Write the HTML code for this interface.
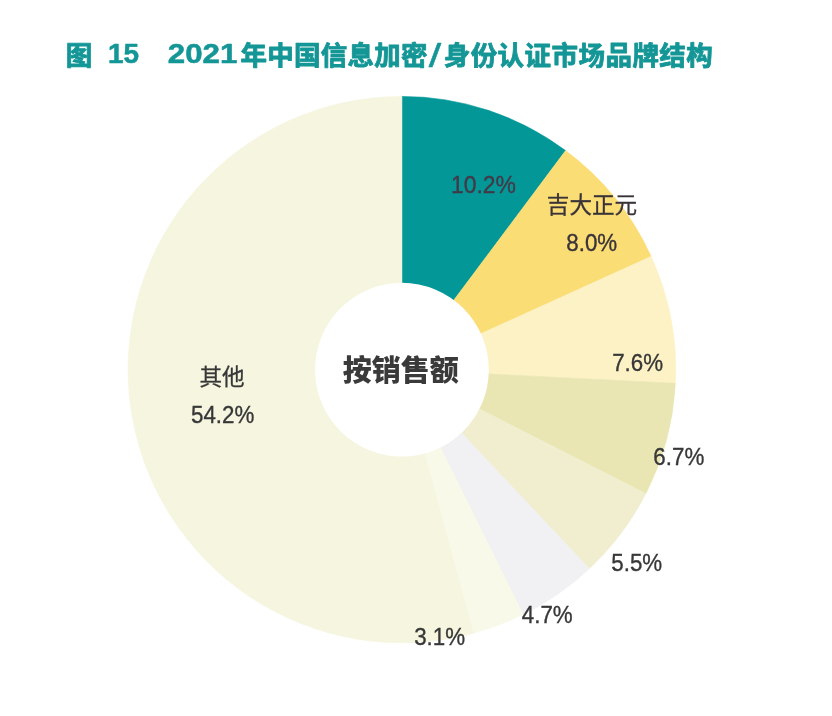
<!DOCTYPE html>
<html lang="zh-CN">
<head>
<meta charset="utf-8">
<title>图 15 2021 年中国信息加密/身份认证市场品牌结构</title>
<style>
html,body{margin:0;padding:0;background:#fff;}
body{width:832px;height:716px;position:relative;overflow:hidden;font-family:"Liberation Sans","Noto Sans CJK SC",sans-serif;}
svg{position:absolute;left:0;top:0;display:block;}
svg text{font-family:"Liberation Sans","Noto Sans CJK SC",sans-serif;fill:#373737;}
svg text.n{font-size:24.3px;text-anchor:middle;stroke:#373737;stroke-width:0.35px;}
svg text.k{font-size:22.6px;text-anchor:middle;stroke:#373737;stroke-width:0.3px;}
svg text.c{font-size:29px;font-weight:900;fill:#3a3a3a;text-anchor:middle;font-family:"Noto Sans CJK SC","Liberation Sans",sans-serif;}
svg .t text{fill:#149696;font-weight:bold;stroke:#149696;stroke-width:0.5px;stroke-linejoin:round;}
svg .t text.tk{stroke-width:0.85px;}
svg text.tk{font-size:26.5px;font-family:"Noto Sans CJK SC","Liberation Sans",sans-serif;}
svg text.tn{font-size:26.8px;}
</style>
</head>
<body>
<svg width="832" height="716" viewBox="0 0 832 716">
<g class="t">
<text class="tk" x="65.7" y="64.6">图</text>
<text class="tn" x="108.1" y="63.4" textLength="31" lengthAdjust="spacingAndGlyphs">15</text>
<text class="tn" x="167.8" y="63.4" textLength="69.6" lengthAdjust="spacingAndGlyphs">2021</text>
<text class="tk" x="240.6" y="64.7" style="letter-spacing:0.22px">年中国信息加密</text>
<text class="tn" x="428.8" y="66.6" textLength="12.4" lengthAdjust="spacingAndGlyphs" style="font-size:33.5px;font-weight:normal">/</text>
<text class="tk" x="443.7" y="64.7" style="letter-spacing:0.46px">身份认证市场品牌结构</text>
</g>
<path d="M401.9 369.6L401.90 96.40A273.8 273.2 0 0 1 565.61 150.61Z" fill="#039797" stroke="#039797" stroke-width="0.6"/>
<path d="M401.9 369.6L565.61 150.61A273.8 273.2 0 0 1 651.09 256.39Z" fill="#fbdd76" stroke="#fbdd76" stroke-width="0.6"/>
<path d="M401.9 369.6L651.09 256.39A273.8 273.2 0 0 1 675.35 383.33Z" fill="#fcf2c5" stroke="#fcf2c5" stroke-width="0.6"/>
<path d="M401.9 369.6L675.35 383.33A273.8 273.2 0 0 1 645.86 493.63Z" fill="#e9e6b4" stroke="#e9e6b4" stroke-width="0.6"/>
<path d="M401.9 369.6L645.86 493.63A273.8 273.2 0 0 1 589.33 568.75Z" fill="#f0eecf" stroke="#f0eecf" stroke-width="0.6"/>
<path d="M401.9 369.6L589.33 568.75A273.8 273.2 0 0 1 523.13 614.56Z" fill="#f1f0f2" stroke="#f1f0f2" stroke-width="0.6"/>
<path d="M401.9 369.6L523.13 614.56A273.8 273.2 0 0 1 473.32 633.34Z" fill="#f9f9ea" stroke="#f9f9ea" stroke-width="0.6"/>
<path d="M401.9 369.6L473.32 633.34A273.8 273.2 0 1 1 401.90 96.40Z" fill="#f5f5e0" stroke="#f5f5e0" stroke-width="0.6"/>
<circle cx="401.9" cy="369.7" r="86.9" fill="#fff"/>
<text class="c" x="400.8" y="381.0">按销售额</text>
<text class="n" transform="translate(483.4 193.4) scale(0.943 1)" style="fill:#433a47;stroke:#433a47">10.2%</text>
<text class="n" transform="translate(591.7 250.9) scale(0.92 1)" style="fill:#3a3338;stroke:#3a3338">8.0%</text>
<text class="n" transform="translate(637.6 370.6) scale(0.92 1)">7.6%</text>
<text class="n" transform="translate(678.8 464.9) scale(0.92 1)">6.7%</text>
<text class="n" transform="translate(636.7 570.5) scale(0.92 1)">5.5%</text>
<text class="n" transform="translate(547.2 623.0) scale(0.92 1)">4.7%</text>
<text class="n" transform="translate(439.6 644.5) scale(0.92 1)">3.1%</text>
<text class="n" transform="translate(222.7 423.1) scale(0.92 1)">54.2%</text>
<text class="k" x="592.0" y="212.9" style="fill:#3a3338;stroke:#3a3338">吉大正元</text>
<text class="k" x="222.1" y="385.3">其他</text>
</svg>
</body>
</html>
